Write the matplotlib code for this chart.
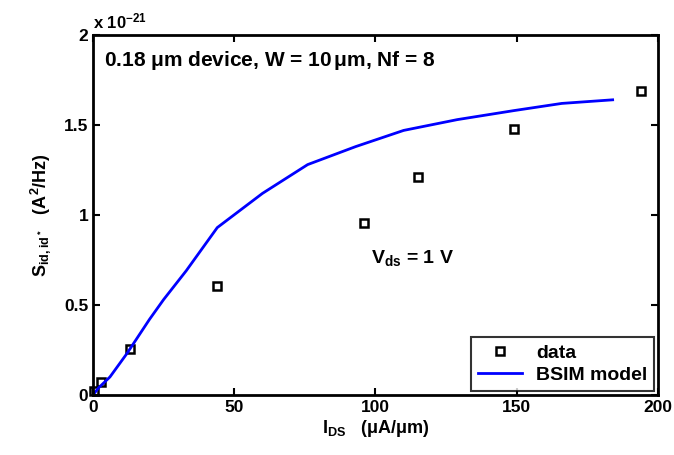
import matplotlib
matplotlib.use('Agg')
import matplotlib.pyplot as plt
from matplotlib.ticker import FuncFormatter

plt.rcParams['font.family'] = ['Liberation Sans', 'DejaVu Sans']
plt.rcParams['font.weight'] = 'bold'
plt.rcParams['axes.labelweight'] = 'bold'
plt.rcParams['mathtext.fontset'] = 'custom'
plt.rcParams['mathtext.rm'] = 'Liberation Sans:bold'
plt.rcParams['mathtext.it'] = 'Liberation Sans:bold'
plt.rcParams['mathtext.bf'] = 'Liberation Sans:bold'

SCALE = 1e-21

# measured noise (units of 1e-21 A^2/Hz)
data_ids = [0.5, 3, 13, 44, 96, 115, 149, 194]
data_sid = [0.02, 0.07, 0.255, 0.605, 0.955, 1.21, 1.48, 1.69]

# BSIM model curve
model_ids = [0, 2, 6, 12, 20, 25, 33, 44, 60, 76, 93, 110, 129, 149, 166, 184]
model_sid = [0, 0.04, 0.1, 0.23, 0.42, 0.53, 0.69, 0.93, 1.12, 1.28, 1.38, 1.47,
             1.53, 1.58, 1.62, 1.64]

fig = plt.figure(figsize=(6.74, 4.55), dpi=100)
ax = fig.add_axes([0.138, 0.132, 0.838, 0.791])

ax.plot(data_ids, [v * SCALE for v in data_sid], 's', mfc='none', mec='black',
        mew=1.8, ms=6, label='data', clip_on=False)
ax.plot(model_ids, [v * SCALE for v in model_sid], '-', color='#0000ff',
        lw=2, label='BSIM model')

ax.set_xlim(0, 200)
ax.set_ylim(0, 2 * SCALE)
ax.set_xticks([0, 50, 100, 150, 200])
ax.set_yticks([0, 0.5 * SCALE, 1 * SCALE, 1.5 * SCALE, 2 * SCALE])
ax.yaxis.set_major_formatter(FuncFormatter(lambda v, p: '%g' % round(v / SCALE, 2)))

ax.tick_params(direction='in', top=True, right=True, labelsize=12.5, width=1.5,
               length=5)
for s in ax.spines.values():
    s.set_linewidth(2)

ax.text(0.0, 1.01, r'x 10$^{-21}$', transform=ax.transAxes, fontsize=12,
        ha='left', va='bottom')
ax.text(0.02, 0.93, r'0.18 $\mu$m device, W = 10$\,\mu$m, Nf = 8',
        transform=ax.transAxes, fontsize=15, ha='left', va='center')
ax.text(113, 0.76 * SCALE, r'V$_{\mathregular{ds}}$ = 1 V', fontsize=14,
        ha='center', va='center')

ax.set_xlabel(r'I$_{\mathregular{DS}}$   ($\mu$A/$\mu$m)', fontsize=13, labelpad=2)
ax.set_ylabel(r'S$_{\mathregular{id,id}^*}$   (A$^2$/Hz)', fontsize=13, labelpad=8)

leg = ax.legend(loc='lower right', fontsize=14, frameon=True, fancybox=False,
                edgecolor='black', borderpad=0.35, handlelength=2.3,
                handletextpad=0.7, labelspacing=0.25, borderaxespad=0.2)
leg.get_frame().set_linewidth(1.5)

fig.savefig('out.png', dpi=100)
